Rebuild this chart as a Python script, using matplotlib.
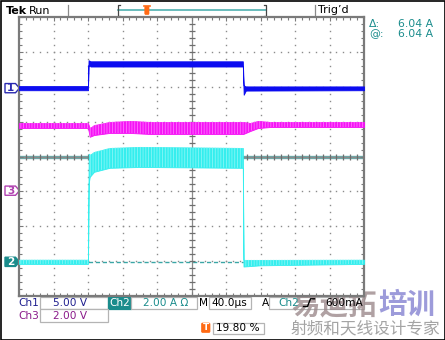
import numpy as np
import matplotlib
matplotlib.use('Agg')
import matplotlib.pyplot as plt
from matplotlib.patches import Polygon, Rectangle, FancyBboxPatch

plt.rcParams['hatch.linewidth'] = 0.6

# ---------------- data ----------------
time_per_div = 40.0          # us/div
t_left, t_right = -80.0, 320.0
ch1_scale, ch2_scale, ch3_scale = 5.0, 2.0, 2.0     # V/div, A/div, V/div
ch1_offset, ch2_offset, ch3_offset = 1.96, -3.02, -0.98   # divisions
trigger_level = 0.6          # A (Ch2)
cursor_a = 6.04              # A
cursor_b = 0.0               # A

# Ch1 (V) envelope
ch1_t  = [-80, 0, 0.6, 3, 179.5, 180.5, 183, 320]
ch1_hi = [0.30, 0.30, 4.00, 3.85, 3.85, 0.40, 0.25, 0.25]
ch1_lo = [-0.30, -0.30, 3.30, 3.10, 3.10, -0.95, -0.35, -0.30]

# Ch3 (V) envelope
ch3_t  = [-80, 0, 2, 7, 25, 49, 72, 180, 188, 197, 211, 320]
ch3_hi = [3.88, 3.88, 3.59, 3.76, 3.94, 4.00, 3.94, 3.94, 3.88, 4.00, 3.94, 3.94]
ch3_lo = [3.59, 3.59, 3.09, 3.19, 3.31, 3.31, 3.25, 3.25, 3.42, 3.59, 3.65, 3.65]

# Ch2 (A) envelope
ch2_t  = [-80, 0, 0.8, 2, 7, 25, 60, 179.5, 180.3, 200, 320]
ch2_hi = [0.12, 0.12, 6.20, 6.13, 6.30, 6.53, 6.59, 6.53, 0.11, 0.11, 0.12]
ch2_lo = [-0.12, -0.12, 4.50, 4.87, 5.16, 5.39, 5.44, 5.39, -0.27, -0.20, -0.12]

# readouts
ch1_label, ch1_value = "Ch1", "5.00 V"
ch2_label, ch2_value = "Ch2", "2.00 A \u03a9"
ch3_label, ch3_value = "Ch3", "2.00 V"
timebase = "40.0\u00b5s"
trig_level_text = "600mA"
trig_pos_text = "19.80 %"
delta_text, at_text = "6.04 A", "6.04 A"

BLUE = '#0c0cf0'
MAGENTA = '#f514f5'
CYAN = '#34eeee'
CH1_TXT = '#1f1f8f'
CH3_TXT = '#8a1a8a'
TEAL = '#1a8c8c'
ORANGE = '#ff6a14'
GRID = '#8c8c8c'
BOXC = '#b4b4b4'

# ---------------- figure ----------------
fig = plt.figure(figsize=(4.45, 3.40), dpi=100)
ov = fig.add_axes([0, 0, 1, 1])
ov.set_xlim(0, 445)
ov.set_ylim(340, 0)
ov.axis('off')

ax = fig.add_axes([19/445, (340-296)/340, 345/445, 279/340])
ax.set_xlim(t_left, t_right)
ax.set_ylim(-4, 4)
ax.set_facecolor('white')
for s in ax.spines.values():
    s.set_color('#7a7a7a')
    s.set_linewidth(1.6)
ax.set_xticks(np.arange(t_left, t_right + 1, time_per_div))
ax.set_xticks(np.arange(t_left, t_right + 1, time_per_div/5), minor=True)
ax.set_yticks(np.arange(-4, 5, 1))
ax.set_yticks(np.arange(-4, 4.01, 0.2), minor=True)
ax.tick_params(which='both', direction='in', top=True, right=True,
               labelbottom=False, labelleft=False, color='#7a7a7a', width=0.8)
ax.tick_params(which='major', length=3)
ax.tick_params(which='minor', length=2.5)

t_center = (t_left + t_right) / 2
# dotted grid
for tx in np.arange(t_left + time_per_div, t_right, time_per_div):
    if abs(tx - t_center) < 1e-6:
        continue
    ys = np.arange(-3.8, 3.81, 0.2)
    ax.plot(np.full_like(ys, tx), ys, ls='none', marker='s', ms=1.0, mew=0, color=GRID, zorder=1)
for ty in range(-3, 4):
    if ty == 0:
        continue
    xs = np.arange(t_left + 8, t_right - 1, 8)
    ax.plot(xs, np.full_like(xs, ty), ls='none', marker='s', ms=1.0, mew=0, color=GRID, zorder=1)

# cursors (Ch2)
ax.axhline(cursor_a/ch2_scale + ch2_offset, color='#6aaaaa', lw=2.4, zorder=1.2)
ax.axhline(cursor_b/ch2_scale + ch2_offset, color='#3aa6a6', lw=1.0, ls=(0, (3, 2)), zorder=1.2)

# center cross with ticks
ax.axhline(0, color='#8a8a8a', lw=0.9, zorder=1.5)
ax.axvline(t_center, color='#8a8a8a', lw=0.9, zorder=1.5)
xs = np.arange(t_left + 8, t_right - 1, 8)
ax.plot(xs, np.zeros_like(xs), ls='none', marker='|', ms=5, mew=0.9, color='#6e6e6e', zorder=1.6)
ys = np.arange(-3.8, 3.81, 0.2)
ax.plot(np.full_like(ys, t_center), ys, ls='none', marker='_', ms=5, mew=0.9, color='#6e6e6e', zorder=1.6)

def to_div(vals, scale, off):
    return np.asarray(vals) / scale + off

# traces
ax.fill_between(ch2_t, to_div(ch2_lo, ch2_scale, ch2_offset), to_div(ch2_hi, ch2_scale, ch2_offset),
                facecolor=CYAN, edgecolor=CYAN, lw=0.6, zorder=3)
ax.fill_between(ch2_t, to_div(ch2_lo, ch2_scale, ch2_offset), to_div(ch2_hi, ch2_scale, ch2_offset),
                facecolor='none', edgecolor='#86f6f6', hatch='||||||', lw=0, zorder=3.1)
ax.fill_between(ch3_t, to_div(ch3_lo, ch3_scale, ch3_offset), to_div(ch3_hi, ch3_scale, ch3_offset),
                facecolor=MAGENTA, edgecolor=MAGENTA, lw=0.6, zorder=3)
ax.fill_between(ch3_t, to_div(ch3_lo, ch3_scale, ch3_offset), to_div(ch3_hi, ch3_scale, ch3_offset),
                facecolor='none', edgecolor='#ff70ff', hatch='||||||', lw=0, zorder=3.1)
ax.fill_between(ch1_t, to_div(ch1_lo, ch1_scale, ch1_offset), to_div(ch1_hi, ch1_scale, ch1_offset),
                facecolor=BLUE, edgecolor=BLUE, lw=0.6, zorder=3.2)

# --------------- helpers for overlay ---------------
def px(t, d):
    disp = ax.transData.transform((t, d))
    return ov.transData.inverted().transform(disp)

fig.canvas.draw()

# channel markers on the left
def tag(ypix, num, color, filled):
    xl, xr, tip, h = 5, 15.5, 19.5, 4.6
    poly = Polygon([[xl, ypix-h], [xr, ypix-h], [tip, ypix], [xr, ypix+h], [xl, ypix+h]],
                   closed=True, facecolor=color if filled else 'white',
                   edgecolor=color, lw=1.0, zorder=5)
    ov.add_patch(poly)
    ov.text(10.5, ypix+0.3, num, color='white' if filled else color, fontsize=7.5,
            fontweight='bold', ha='center', va='center', zorder=6)

tag(px(t_left, ch1_offset)[1], '1', '#2a2ab0', False)
tag(px(t_left, ch3_offset)[1], '3', '#b040b0', False)
tag(px(t_left, ch2_offset)[1], '2', TEAL, True)

# trigger level arrow on right
ty = px(t_right, trigger_level/ch2_scale + ch2_offset)[1]
ov.add_patch(Polygon([[356.5, ty], [361.5, ty-3.2], [361.5, ty+3.2]], closed=True,
                     facecolor=TEAL, edgecolor=TEAL, lw=0.5, zorder=5))

# trigger position marker (top)
tx0 = px(0, 4)[0]
ov.add_patch(Polygon([[tx0-3.5, 19], [tx0+3.5, 19], [tx0, 22.5]], closed=True,
                     facecolor=ORANGE, edgecolor=ORANGE, lw=0.5, zorder=5))
ov.add_patch(FancyBboxPatch((tx0-3.2, 22.5), 6.4, 10.5, boxstyle='round,pad=0,rounding_size=1.5',
                            facecolor=ORANGE, edgecolor=ORANGE, lw=0.5, zorder=5))
ov.text(tx0, 28, 'T', color='white', fontsize=6.5, fontweight='bold', ha='center', va='center', zorder=6)

# ---------------- header ----------------
ov.text(6, 10.5, 'Tek', fontsize=8, fontweight='bold', ha='left', va='center', color='black')
ov.text(29, 10.5, 'Run', fontsize=8, ha='left', va='center', color='black')
ov.plot([68.3, 68.3], [4.5, 16], color='#8a8a8a', lw=0.9)
ov.plot([315.3, 315.3], [4.5, 16], color='#8a8a8a', lw=0.9)
ov.plot([118, 265.5], [10.3, 10.3], color='#4fb0b0', lw=1.2)
ov.plot([119.5, 118, 118, 119.5], [5, 5, 15.5, 15.5], color='#444444', lw=0.9)
ov.plot([264, 265.5, 265.5, 264], [5, 5, 15.5, 15.5], color='#444444', lw=0.9)
ov.add_patch(FancyBboxPatch((144.8, 6.5), 4.2, 8, boxstyle='round,pad=0,rounding_size=1',
                            facecolor=ORANGE, edgecolor=ORANGE, lw=0.5, zorder=5))
ov.plot([144, 149.8], [5.5, 5.5], color=ORANGE, lw=1.2, zorder=5)
ov.text(318.5, 10, "Trig\u2019d", fontsize=8, ha='left', va='center', color='black')

ov.text(369, 24.3, '\u0394:', fontsize=7.8, ha='left', va='center', color=TEAL)
ov.text(433.5, 24.3, delta_text, fontsize=7.8, ha='right', va='center', color=TEAL)
ov.text(369, 33.8, '@:', fontsize=7.8, ha='left', va='center', color=TEAL)
ov.text(433.5, 33.8, at_text, fontsize=7.8, ha='right', va='center', color=TEAL)

# ---------------- bottom readouts ----------------
def box(x0, y0, x1, y1, fc='white', ec=BOXC):
    ov.add_patch(Rectangle((x0, y0), x1-x0, y1-y0, facecolor=fc, edgecolor=ec, lw=0.9, zorder=2))

fs = 7.6
ov.text(18, 302.6, ch1_label, fontsize=fs, ha='left', va='center', color=CH1_TXT)
box(40, 297, 107.5, 308.5)
ov.text(53, 302.6, ch1_value, fontsize=fs, ha='left', va='center', color=CH1_TXT)
box(108, 297, 130.8, 308.5, fc=TEAL, ec=TEAL)
ov.text(119.4, 302.6, ch2_label, fontsize=fs, ha='center', va='center', color='white', zorder=3)
box(131, 297, 197, 308.5)
ov.text(143, 302.6, ch2_value, fontsize=fs, ha='left', va='center', color=TEAL)
ov.text(199.5, 302.6, 'M', fontsize=fs, ha='left', va='center', color='black')
box(209, 297, 250.5, 308.5)
ov.text(211, 302.6, timebase, fontsize=fs, ha='left', va='center', color='black')
ov.text(261.5, 302.6, 'A', fontsize=fs, ha='left', va='center', color='black')
box(268.5, 297, 363.5, 308.5)
ov.text(278, 302.6, ch2_label, fontsize=fs, ha='left', va='center', color=TEAL, zorder=4)
ov.plot([303.5, 307.5, 310.5, 314.5], [306.5, 306.5, 298.8, 298.8], color='black', lw=1.0, zorder=4)
ov.text(362.5, 302.6, trig_level_text, fontsize=fs, ha='right', va='center', color='black', zorder=4)

ov.text(18, 316.2, ch3_label, fontsize=fs, ha='left', va='center', color=CH3_TXT)
box(40, 308.5, 107.5, 321.5)
ov.text(53, 315.6, ch3_value, fontsize=fs, ha='left', va='center', color=CH3_TXT)

ov.add_patch(FancyBboxPatch((201.5, 323), 8.5, 9.5, boxstyle='round,pad=0,rounding_size=1.2',
                            facecolor=ORANGE, edgecolor=ORANGE, lw=0.5, zorder=3))
ov.text(205.8, 327.9, 'T', color='white', fontsize=6.5, fontweight='bold', ha='center', va='center', zorder=4)
box(212.5, 322.5, 263.5, 334)
ov.text(215.5, 328.3, trig_pos_text, fontsize=fs, ha='left', va='center', color='black')

# ---------------- watermark (semi-transparent, behind readout text) ----------------
cjk = ['Noto Sans CJK SC', 'DejaVu Sans']
ov.text(291, 305, '\u6613\u8fea\u62d3', fontsize=20.5, family=cjk, fontweight='bold',
        ha='left', va='center', color='#9c8a8c', alpha=0.8, zorder=3)
ov.text(378, 305, '\u57f9\u8bad', fontsize=20.5, family=cjk, fontweight='bold',
        ha='left', va='center', color='#8c8ad4', alpha=0.85, zorder=3)
ov.text(291, 329, '\u5c04\u9891\u548c\u5929\u7ebf\u8bbe\u8ba1\u4e13\u5bb6', fontsize=12, family=cjk,
        ha='left', va='center', color='#9a9a9a', alpha=0.9, zorder=3)

# outer frame
ov.add_patch(Rectangle((0.5, 0.5), 444, 339, facecolor='none', edgecolor='black', lw=1.2, zorder=8))

fig.savefig('out.png', dpi=100)
